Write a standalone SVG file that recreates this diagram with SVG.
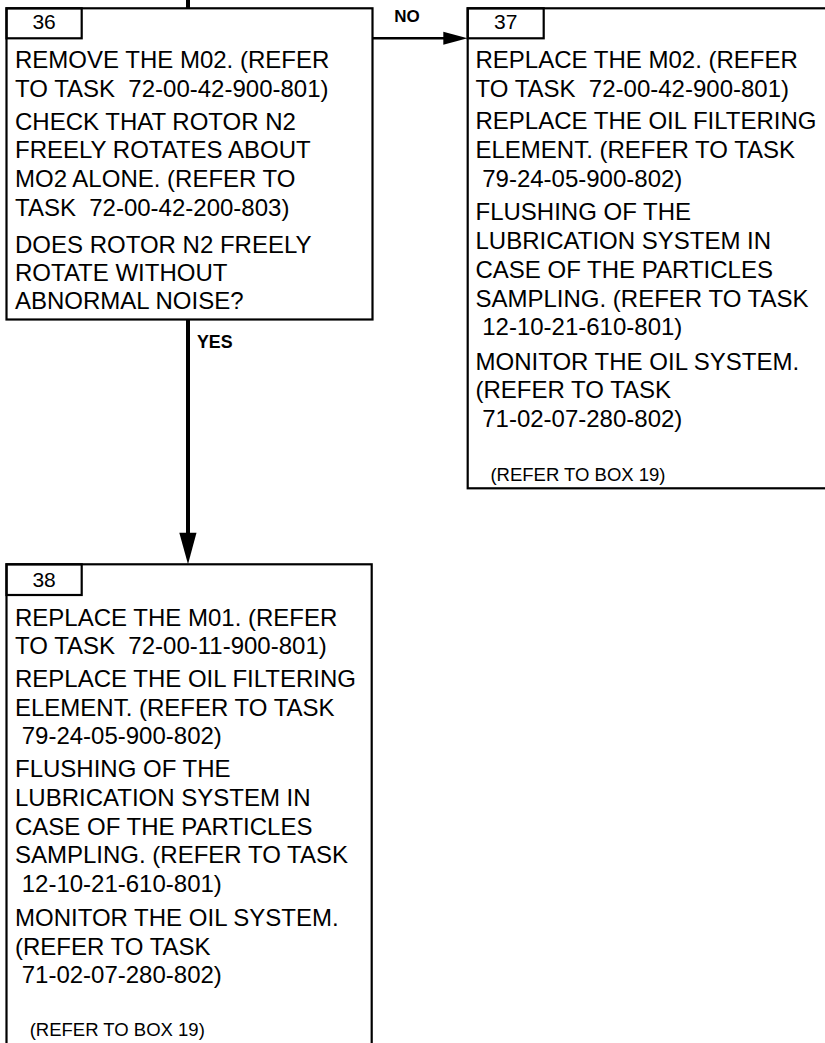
<svg xmlns="http://www.w3.org/2000/svg" width="825" height="1043" viewBox="0 0 825 1043">
<style>
.box{fill:#fff;stroke:#000;stroke-width:2.2}
.tag{fill:none;stroke:#000;stroke-width:2.2}
.t{font-family:"Liberation Sans",Arial,sans-serif;font-size:24px;fill:#000}
.num{font-family:"Liberation Sans",Arial,sans-serif;font-size:21px;fill:#000;text-anchor:middle}
.ref{font-family:"Liberation Sans",Arial,sans-serif;font-size:18.5px;fill:#000}
.lbl{font-family:"Liberation Sans",Arial,sans-serif;font-weight:bold;fill:#000}
.ln{stroke:#000;fill:none}
</style>
<rect width="825" height="1043" fill="#fff"/>
<g id="connectors">
<line class="ln" x1="188" y1="0" x2="188" y2="8" stroke-width="4"/>
<line class="ln" x1="372.5" y1="38.3" x2="446" y2="38.3" stroke-width="2.5"/>
<polygon points="443.3,31.7 443.3,44.8 467.5,38.3" fill="#000"/>
<text class="lbl" x="394.3" y="21.7" font-size="17">NO</text>
<line class="ln" x1="188" y1="319.5" x2="188" y2="535" stroke-width="4"/>
<polygon points="179.3,532.7 196.5,532.7 188,564.3" fill="#000"/>
<text class="lbl" x="197" y="348.3" font-size="17.8">YES</text>
</g>
<g id="node36">
<rect class="box" x="6.5" y="8.3" width="366" height="311.2"/>
<rect class="tag" x="6.5" y="8.3" width="75.2" height="30"/>
<text class="num" x="44.1" y="29.3">36</text>
<text class="t" x="15" y="68.3">REMOVE THE M02. (REFER</text>
<text class="t" x="15" y="97.3" xml:space="preserve">TO TASK  72-00-42-900-801)</text>
<text class="t" x="15" y="129.6">CHECK THAT ROTOR N2</text>
<text class="t" x="15" y="158.3">FREELY ROTATES ABOUT</text>
<text class="t" x="15" y="187">MO2 ALONE. (REFER TO</text>
<text class="t" x="15" y="216" xml:space="preserve">TASK  72-00-42-200-803)</text>
<text class="t" x="15" y="252.5">DOES ROTOR N2 FREELY</text>
<text class="t" x="15" y="281">ROTATE WITHOUT</text>
<text class="t" x="15" y="309.3">ABNORMAL NOISE?</text>
</g>
<g id="node37">
<rect class="box" x="467.7" y="8.3" width="370" height="480"/>
<rect class="tag" x="467.7" y="8.3" width="76" height="30"/>
<text class="num" x="505.7" y="29.3">37</text>
<text class="t" x="475.5" y="68.3">REPLACE THE M02. (REFER</text>
<text class="t" x="475.5" y="97.3" xml:space="preserve">TO TASK  72-00-42-900-801)</text>
<text class="t" x="475.5" y="129.3">REPLACE THE OIL FILTERING</text>
<text class="t" x="475.5" y="158.3">ELEMENT. (REFER TO TASK</text>
<text class="t" x="482.2" y="186.7">79-24-05-900-802)</text>
<text class="t" x="475.5" y="220">FLUSHING OF THE</text>
<text class="t" x="475.5" y="249.3">LUBRICATION SYSTEM IN</text>
<text class="t" x="475.5" y="278.3">CASE OF THE PARTICLES</text>
<text class="t" x="475.5" y="306.7">SAMPLING. (REFER TO TASK</text>
<text class="t" x="482.2" y="335">12-10-21-610-801)</text>
<text class="t" x="475.5" y="370">MONITOR THE OIL SYSTEM.</text>
<text class="t" x="475.5" y="398.3">(REFER TO TASK</text>
<text class="t" x="482.2" y="427.3">71-02-07-280-802)</text>
<text class="ref" x="490.4" y="481">(REFER TO BOX 19)</text>
</g>
<g id="node38">
<rect class="box" x="6.5" y="564.3" width="365.2" height="490"/>
<rect class="tag" x="6.5" y="564.3" width="75.2" height="30.7"/>
<text class="num" x="44.1" y="586.5">38</text>
<text class="t" x="15" y="626">REPLACE THE M01. (REFER</text>
<text class="t" x="15" y="654.3" xml:space="preserve">TO TASK  72-00-11-900-801)</text>
<text class="t" x="15" y="687">REPLACE THE OIL FILTERING</text>
<text class="t" x="15" y="716">ELEMENT. (REFER TO TASK</text>
<text class="t" x="21.7" y="744">79-24-05-900-802)</text>
<text class="t" x="15" y="777.3">FLUSHING OF THE</text>
<text class="t" x="15" y="806">LUBRICATION SYSTEM IN</text>
<text class="t" x="15" y="835">CASE OF THE PARTICLES</text>
<text class="t" x="15" y="863.3">SAMPLING. (REFER TO TASK</text>
<text class="t" x="21.7" y="892.3">12-10-21-610-801)</text>
<text class="t" x="15" y="926">MONITOR THE OIL SYSTEM.</text>
<text class="t" x="15" y="955">(REFER TO TASK</text>
<text class="t" x="21.7" y="983.3">71-02-07-280-802)</text>
<text class="ref" x="29.7" y="1036">(REFER TO BOX 19)</text>
</g>
</svg>
